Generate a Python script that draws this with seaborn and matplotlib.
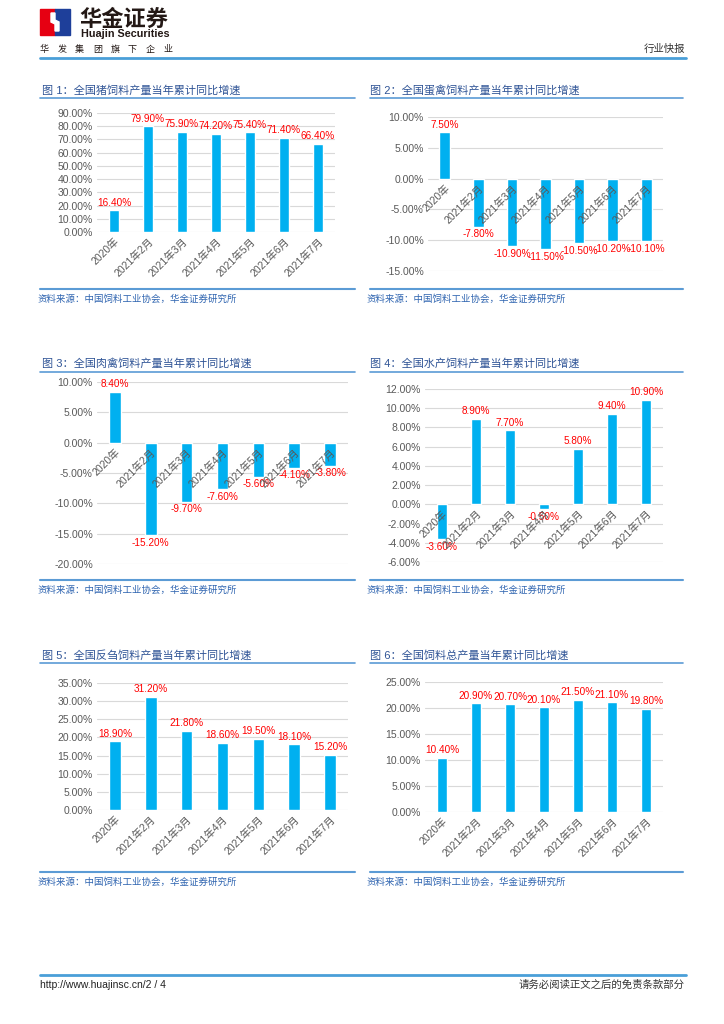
import matplotlib
matplotlib.use('Agg')
import matplotlib.pyplot as plt
import seaborn as sns
import pandas as pd
import numpy as np
from matplotlib.lines import Line2D
from matplotlib.patches import Rectangle, Polygon

sns.set_theme(style='white')
plt.rcParams['font.family'] = ['Liberation Sans', 'Noto Sans CJK SC', 'DejaVu Sans']

# 数据
cats = ['2020年', '2021年2月', '2021年3月', '2021年4月', '2021年5月', '2021年6月', '2021年7月']
pig = [16.4, 79.9, 75.9, 74.2, 75.4, 71.4, 66.4]
egg = [7.5, -7.8, -10.9, -11.5, -10.5, -10.2, -10.1]
broiler = [8.4, -15.2, -9.7, -7.6, -5.6, -4.1, -3.8]
aqua = [-3.6, 8.9, 7.7, -0.5, 5.8, 9.4, 10.9]
rumi = [18.9, 31.2, 21.8, 18.6, 19.5, 18.1, 15.2]
total = [10.4, 20.9, 20.7, 20.1, 21.5, 21.1, 19.8]

titles = ['图 1：全国猪饲料产量当年累计同比增速',
          '图 2：全国蛋禽饲料产量当年累计同比增速',
          '图 3：全国肉禽饲料产量当年累计同比增速',
          '图 4：全国水产饲料产量当年累计同比增速',
          '图 5：全国反刍饲料产量当年累计同比增速',
          '图 6：全国饲料总产量当年累计同比增速']
source = '资料来源：中国饲料工业协会，华金证券研究所'
slogan = ['华', '发', '集', '团', '旗', '下', '企', '业']

W, H = 724, 1024
BAR = '#00B0F0'
TITLE_C = '#2F5496'
LINE_C = '#5B9BD5'
SRC_C = '#2E64B0'
TICK_C = '#595959'


def fx(x):
    return x / W


def fy(y):
    return 1 - y / H


fig = plt.figure(figsize=(W / 100, H / 100), dpi=100)


def hline(x0, x1, y, color=LINE_C, lw=1.2):
    fig.add_artist(Line2D([fx(x0), fx(x1)], [fy(y), fy(y)], color=color, lw=lw,
                          transform=fig.transFigure))


def chart(vals, title, box, yticks, tx, ty, ly, sy, lx0, lx1):
    left, right, top, bottom = box
    ax = fig.add_axes([fx(left), fy(bottom), fx(right) - fx(left), fy(top) - fy(bottom)])
    d = pd.DataFrame({'cat': cats, 'val': vals})
    sns.barplot(data=d, x='cat', y='val', ax=ax, color=BAR, saturation=1, width=0.32)
    ax.set_xlim(-0.5, len(cats) - 0.5)
    ax.set_ylim(yticks[0], yticks[-1])
    ax.set_yticks(yticks)
    ax.set_yticklabels([f'{t:.2f}%' for t in yticks], fontsize=7.5, color=TICK_C)
    ax.set_xlabel('')
    ax.set_ylabel('')
    ax.yaxis.grid(True, color='#D9D9D9', lw=0.8)
    ax.set_axisbelow(True)
    ax.xaxis.set_zorder(3)
    for s in ax.spines.values():
        s.set_visible(False)
    if yticks[0] < 0:
        ax.spines['bottom'].set_position(('data', 0))
    ax.tick_params(length=0, pad=3)
    ax.set_xticks(range(len(cats)))
    ax.set_xticklabels(cats, rotation=45, ha='right', rotation_mode='anchor',
                       fontsize=7.5, color=TICK_C)
    ax.bar_label(ax.containers[0], labels=[f'{v:.2f}%' for v in vals], padding=2,
                 color='#FF0000', fontsize=7.2)
    fig.text(fx(tx), fy(ty), title, fontsize=8, color=TITLE_C, va='center')
    hline(lx0, lx1, ly)
    hline(lx0, lx1, sy, lw=1.5)
    fig.text(fx(lx0 - 3), fy(sy + 10), source, fontsize=6.8, color=SRC_C, va='center')


chart(pig, titles[0], (97, 335, 113, 232), list(range(0, 91, 10)), 42, 90, 98, 289, 40, 355)
chart(egg, titles[1], (428, 663, 117, 271), list(range(-15, 11, 5)), 370, 90, 98, 289, 370, 683)
chart(broiler, titles[2], (97, 348, 382, 564), list(range(-20, 11, 5)), 42, 363, 372, 580, 40, 355)
chart(aqua, titles[3], (425, 663, 389, 562), list(range(-6, 13, 2)), 370, 363, 372, 580, 370, 683)
chart(rumi, titles[4], (97, 348, 683, 810), list(range(0, 36, 5)), 42, 655, 663, 872, 40, 355)
chart(total, titles[5], (425, 663, 682, 812), list(range(0, 26, 5)), 370, 655, 663, 872, 370, 683)

# 页眉
fig.add_artist(Rectangle((fx(40), fy(35)), fx(15), fy(0) - fy(26), color='#E60012',
                         transform=fig.transFigure))
fig.add_artist(Rectangle((fx(55), fy(35)), fx(15), fy(0) - fy(26), color='#1E3F9A',
                         transform=fig.transFigure))
fig.add_artist(Polygon([(fx(51), fy(13)), (fx(55), fy(13)), (fx(55), fy(20)), (fx(59), fy(22)),
                        (fx(59), fy(31)), (fx(55), fy(31)), (fx(55), fy(24)), (fx(51), fy(22))],
                       closed=True, color='white', transform=fig.transFigure))
fig.text(fx(79), fy(19), '华金证券', fontsize=16, fontweight='bold', color='#231815',
         family=['Noto Sans CJK SC'], va='center')
fig.text(fx(81), fy(34), 'Huajin Securities', fontsize=7.8, fontweight='bold', color='#231815',
         va='center')
for i, ch in enumerate(slogan):
    fig.text(fx(40 + i * 17.6), fy(52), ch, fontsize=6.5, color='#231815',
             family=['Noto Sans CJK SC'], va='baseline')
fig.text(fx(685), fy(49), '行业快报', fontsize=7.5, color='#333333', ha='right', va='center')
hline(40, 686, 58, color='#4A9FD8', lw=2)

# 页脚
hline(40, 686, 975, color='#4A9FD8', lw=2)
fig.text(fx(40), fy(985), 'http://www.huajinsc.cn/2 / 4', fontsize=7.5, color='#222222', va='center')
fig.text(fx(685), fy(985), '请务必阅读正文之后的免责条款部分', fontsize=7.5, color='#333333',
         ha='right', va='center')

fig.savefig('out.png', dpi=100)
